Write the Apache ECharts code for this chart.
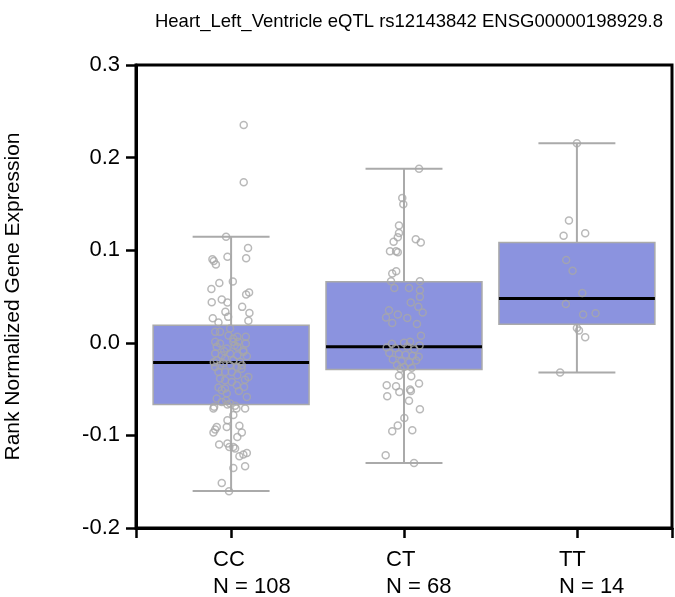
<!DOCTYPE html>
<html>
<head>
<meta charset="utf-8">
<script src="https://cdn.jsdelivr.net/npm/echarts@6/dist/echarts.min.js"></script>
<style>html,body{margin:0;padding:0;background:#fff;}#c{width:675px;height:597px;}</style>
</head>
<body>
<div id="c"></div>
<script>
var titleText = 'Heart_Left_Ventricle eQTL rs12143842 ENSG00000198929.8';
var yAxisName = 'Rank Normalized Gene Expression';
var categories = ['CC', 'CT', 'TT'];
var counts = [108, 68, 14];
var yTicks = [-0.2, -0.1, 0.0, 0.1, 0.2, 0.3];

var boxMin = [-0.160, -0.1297, -0.0321];
var boxQ1 = [-0.0667, -0.0289, 0.0201];
var boxMedian = [-0.0213, -0.0044, 0.0478];
var boxQ3 = [0.019, 0.0658, 0.1083];
var boxMax = [0.1144, 0.188, 0.2155];

// [jitter (category units), value]
var ccPoints = [
  [0.073,0.2353],[0.073,0.1734],[-0.029,0.1144],[0.098,0.1025],[-0.021,0.0928],[0.087,0.0914],
  [-0.108,0.0903],[-0.100,0.0884],[-0.088,0.0846],[0.010,0.0662],[-0.068,0.0647],[-0.114,0.0582],
  [0.087,0.0522],[0.104,0.0543],[-0.112,0.0438],[-0.054,0.0468],[-0.021,0.0435],[0.064,0.0388],
  [-0.033,0.0334],[0.106,0.0323],[-0.017,0.0280],[-0.106,0.0266],[0.100,0.0237],[-0.073,0.0219],
  [-0.092,0.0118],[-0.064,0.0118],[-0.006,0.0154],[0.085,0.0064],[0.013,0.0046],[0.036,0.0064],
  [-0.092,0.0010],[-0.064,-0.0008],[0.013,0.0010],[0.042,0.0010],[0.085,-0.0008],[-0.083,-0.0044],
  [-0.025,-0.0062],[0.036,-0.0044],[0.071,-0.0080],[-0.092,-0.0116],[-0.054,-0.0134],[-0.006,-0.0116],
  [0.036,-0.0134],[0.071,-0.0098],[-0.083,-0.0188],[-0.035,-0.0170],[0.013,-0.0188],[0.052,-0.0206],
  [0.091,-0.0145],[-0.092,-0.0260],[-0.064,-0.0242],[-0.006,-0.0242],[0.036,-0.0260],[0.062,-0.0242],
  [-0.073,-0.0314],[-0.035,-0.0314],[0.004,-0.0314],[0.036,-0.0350],[0.100,-0.0368],[-0.064,-0.0386],
  [-0.035,-0.0404],[0.004,-0.0422],[0.033,-0.0458],[0.075,-0.0476],[-0.073,-0.0483],[-0.035,-0.0494],
  [-0.054,-0.0512],[-0.025,-0.0548],[0.091,-0.0584],[-0.083,-0.0602],[-0.029,-0.0620],[-0.054,-0.0638],
  [-0.006,-0.0656],[0.020,-0.0030],[-0.040,-0.0090],[0.060,-0.0280],[-0.100,-0.0210],[0.045,-0.0520],
  [-0.015,0.0080],[0.080,-0.0400],[-0.045,-0.0220],
  [-0.098,-0.0690],[-0.102,-0.0710],[-0.021,-0.0667],[0.023,-0.0680],[0.031,-0.0710],[0.081,-0.0710],
  [0.013,-0.0780],[-0.021,-0.0836],[-0.025,-0.0908],[0.048,-0.0897],[-0.083,-0.0908],[-0.092,-0.0936],
  [-0.102,-0.0969],[0.062,-0.0969],[0.036,-0.1016],[-0.069,-0.1098],[-0.021,-0.1088],[-0.010,-0.1124],
  [0.023,-0.1142],[0.013,-0.1124],[0.048,-0.1225],[0.071,-0.1206],[0.091,-0.1189],[0.013,-0.1351],
  [0.081,-0.1333],[-0.054,-0.1513],[-0.012,-0.1603]
];
var ctPoints = [
  [0.087,0.1880],[-0.010,0.1565],[-0.004,0.1497],[-0.029,0.1267],[-0.029,0.1187],[-0.036,0.1140],
  [-0.060,0.1090],[0.068,0.1119],[0.097,0.1083],[-0.081,0.0989],[-0.046,0.0989],[-0.036,0.0978],
  [-0.068,0.0748],[-0.045,0.0773],[-0.075,0.0665],[0.092,0.0665],
  [0.029,0.0593],[-0.056,0.0593],[0.092,0.0568],[0.092,0.0496],[0.039,0.0435],[0.083,0.0388],
  [0.108,0.0327],[-0.087,0.0352],[-0.036,0.0306],[-0.104,0.0273],[0.019,0.0269],[-0.068,0.0215],
  [0.075,0.0204],[0.098,0.0075],
  [-0.070,-0.0010],[0.000,0.0000],[0.035,0.0010],[-0.100,-0.0050],[-0.050,-0.0060],[0.020,-0.0040],
  [0.060,-0.0070],[0.090,-0.0030],[-0.085,-0.0110],[-0.030,-0.0120],[0.010,-0.0130],[0.050,-0.0140],
  [0.085,-0.0150],[-0.065,-0.0180],[-0.015,-0.0200],[0.030,-0.0210],[0.070,-0.0190],[-0.040,-0.0240],
  [0.000,-0.0260],[0.045,-0.0270],[-0.020,-0.0280],
  [-0.029,-0.0357],[0.042,-0.0360],[-0.100,-0.0458],[-0.046,-0.0469],[0.087,-0.0440],[-0.027,-0.0530],
  [0.035,-0.0505],[0.040,-0.0520],[-0.097,-0.0577],[0.029,-0.0627],[0.092,-0.0717],[0.002,-0.0811],
  [-0.036,-0.0893],[-0.068,-0.0955],[0.048,-0.0944],[-0.106,-0.1214],[0.058,-0.1297]
];
var ttPoints = [
  [0.000,0.2155],[-0.046,0.1320],[-0.077,0.1155],[0.048,0.1183],[-0.062,0.0895],[-0.025,0.0777],
  [0.031,0.0539],[-0.064,0.0420],[0.036,0.0306],[0.108,0.0320],[0.000,0.0161],[0.012,0.0133],
  [0.048,0.0060],[-0.097,-0.0320]
];

var groupPoints = [ccPoints, ctPoints, ttPoints];
var scatterData = [];
groupPoints.forEach(function (pts, gi) {
  pts.forEach(function (p) { scatterData.push([gi + 1 + p[0], p[1]]); });
});
var boxData = categories.map(function (c, i) {
  return [i + 1, boxMin[i], boxQ1[i], boxMedian[i], boxQ3[i], boxMax[i]];
});
var labelPos = categories.map(function (c, i) { return i + 1 - 0.104; });

var FONT = '"Liberation Sans", Arial, Helvetica, sans-serif';
var BOX_W = 0.902, CAP_W = 0.445;

var chart = echarts.init(document.getElementById('c'), null, {renderer: 'canvas'});
chart.setOption({
  animation: false,
  backgroundColor: '#fff',
  title: {
    text: titleText,
    left: 404, top: 7, textAlign: 'center',
    textStyle: {fontFamily: FONT, fontSize: 18.5, fontWeight: 'normal', color: '#000'}
  },
  grid: {left: 136, right: 3, top: 65, bottom: 69, containLabel: false, outerBoundsMode: 'none',
         show: true, borderColor: '#000', borderWidth: 3},
  xAxis: {
    type: 'value', min: 0.45, max: 3.55,
    splitLine: {show: false},
    axisLine: {show: true, onZero: false, lineStyle: {color: '#000', width: 3}},
    axisTick: {show: true, length: 10, customValues: [0.45, 1, 2, 3, 3.55], lineStyle: {color: '#000', width: 2.5}},
    axisLabel: {
      customValues: labelPos, align: 'left', margin: 18,
      fontFamily: FONT, fontSize: 22, color: '#000', lineHeight: 27,
      formatter: function (v) {
        var i = Math.round(v) - 1;
        return categories[i] + '\nN = ' + counts[i];
      }
    }
  },
  yAxis: {
    type: 'value', min: -0.2, max: 0.3, interval: 0.1,
    name: yAxisName, nameLocation: 'middle', nameGap: 112,
    nameTextStyle: {fontFamily: FONT, fontSize: 21, color: '#000'},
    splitLine: {show: false},
    axisLine: {show: true, lineStyle: {color: '#000', width: 3}},
    axisTick: {show: true, length: 10, lineStyle: {color: '#000', width: 2.5}},
    axisLabel: {
      margin: 16, fontFamily: FONT, fontSize: 22, color: '#000',
      formatter: function (v) { return v.toFixed(1); }
    }
  },
  series: [
    {
      type: 'custom',
      data: boxData,
      z: 2,
      renderItem: function (params, api) {
        var x = api.value(0);
        var pMin = api.coord([x, api.value(1)]);
        var pQ1 = api.coord([x, api.value(2)]);
        var pMed = api.coord([x, api.value(3)]);
        var pQ3 = api.coord([x, api.value(4)]);
        var pMax = api.coord([x, api.value(5)]);
        var bw = api.size([BOX_W, 0])[0];
        var cw = api.size([CAP_W, 0])[0];
        var gray = '#aaaaaa';
        return {
          type: 'group',
          children: [
            {type: 'line', shape: {x1: pMax[0], y1: pMax[1], x2: pMin[0], y2: pMin[1]}, style: {stroke: gray, lineWidth: 2}},
            {type: 'line', shape: {x1: pMax[0] - cw / 2, y1: pMax[1], x2: pMax[0] + cw / 2, y2: pMax[1]}, style: {stroke: gray, lineWidth: 2}},
            {type: 'line', shape: {x1: pMin[0] - cw / 2, y1: pMin[1], x2: pMin[0] + cw / 2, y2: pMin[1]}, style: {stroke: gray, lineWidth: 2}},
            {type: 'rect', shape: {x: pQ3[0] - bw / 2, y: pQ3[1], width: bw, height: pQ1[1] - pQ3[1]}, style: {fill: '#8b93df', stroke: gray, lineWidth: 1.5}},
            {type: 'line', shape: {x1: pMed[0] - bw / 2, y1: pMed[1], x2: pMed[0] + bw / 2, y2: pMed[1]}, style: {stroke: '#000', lineWidth: 3}}
          ]
        };
      }
    },
    {
      type: 'scatter',
      data: scatterData,
      z: 3,
      symbol: 'circle',
      symbolSize: 7,
      itemStyle: {color: 'rgba(0,0,0,0)', borderColor: '#a8a8a8', borderWidth: 1.5}
    }
  ]
});
</script>
</body>
</html>
